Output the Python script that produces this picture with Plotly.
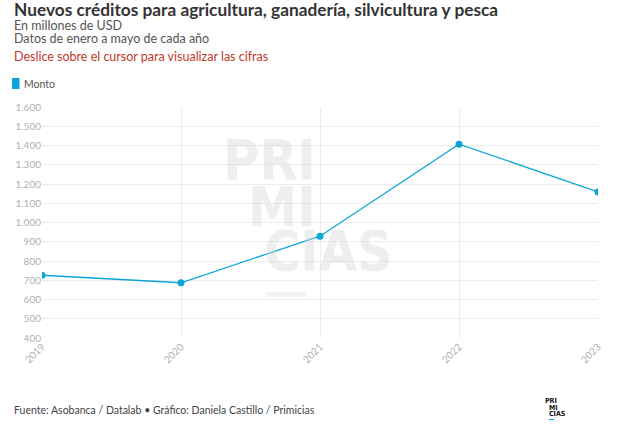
import plotly.graph_objects as go

years = ["2019", "2020", "2021", "2022", "2023"]
monto = [726, 687, 929, 1407, 1159]
y_ticks = [400, 500, 600, 700, 800, 900, 1000, 1100, 1200, 1300, 1400, 1500, 1600]

blue = "#0ca5d6"
font_family = "Lato, sans-serif"

W, H = 629, 436
L, R, T, B = 42, 629 - 598, 107, 436 - 338


def px_x(px):
    return (px - L) / (W - L - R)


def px_y(py):
    return (H - B - py) / (H - T - B)


fig = go.Figure()
fig.add_trace(go.Scatter(
    x=years, y=monto, mode="lines+markers", name="Monto",
    line=dict(color=blue, width=1.3),
    marker=dict(color=blue, size=7),
    showlegend=False,
))

fig.update_layout(
    width=W, height=H,
    margin=dict(l=L, r=R, t=T, b=B),
    paper_bgcolor="white", plot_bgcolor="white",
    font=dict(family=font_family, color="#333"),
    separators=",.",
    xaxis=dict(
        type="category", range=[0, 4],
        showgrid=True, gridcolor="#ececec", gridwidth=1,
        tickangle=-45, tickfont=dict(size=10, color="#b0b0b0"),
        ticks="", showline=False, zeroline=False,
    ),
    yaxis=dict(
        range=[400, 1600], tickvals=y_ticks, tickformat=",d",
        showgrid=True, gridcolor="#ececec", gridwidth=1,
        tickfont=dict(size=10, color="#b0b0b0"),
        ticks="", showline=False, zeroline=False,
    ),
)

# watermark behind the line
wm_font = dict(family="DejaVu Sans Condensed", size=55, color="rgba(215,215,215,0.42)")
fig.add_annotation(x=px_x(318), y=px_y(160), xref="paper", yref="paper",
                   xanchor="right", yanchor="middle", text="<b>PRI</b>",
                   showarrow=False, font=wm_font)
fig.add_annotation(x=px_x(318), y=px_y(207), xref="paper", yref="paper",
                   xanchor="right", yanchor="middle", text="<b>MI</b>",
                   showarrow=False, font=wm_font)
fig.add_annotation(x=px_x(262), y=px_y(251), xref="paper", yref="paper",
                   xanchor="left", yanchor="middle", text="<b>CIAS</b>",
                   showarrow=False, font=wm_font)
fig.add_shape(type="rect", xref="paper", yref="paper",
              x0=px_x(267), x1=px_x(307), y0=px_y(297), y1=px_y(292),
              fillcolor="rgba(205,220,230,0.3)", line=dict(width=0), layer="below")

# titles
texts = [
    ("<b>Nuevos créditos para agricultura, ganadería, silvicultura y pesca</b>", 10, 17.3, "#333333"),
    ("En millones de USD", 25, 12.5, "#555555"),
    ("Datos de enero a mayo de cada año", 38, 12.5, "#555555"),
    ("Deslice sobre el cursor para visualizar las cifras", 56, 12.5, "#c0392b"),
]
for txt, mid, size, color in texts:
    fig.add_annotation(
        x=px_x(12), y=px_y(mid), xref="paper", yref="paper",
        text=txt, showarrow=False, xanchor="left", yanchor="middle",
        font=dict(size=size, color=color, family=font_family),
    )

# legend
fig.add_shape(type="rect", xref="paper", yref="paper",
              x0=px_x(12), x1=px_x(19.5), y0=px_y(78), y1=px_y(89),
              fillcolor=blue, line=dict(width=0))
fig.add_annotation(
    x=px_x(21.5), y=px_y(83.5), xref="paper", yref="paper",
    text="Monto", showarrow=False, xanchor="left", yanchor="middle",
    font=dict(size=10.5, color="#555", family=font_family),
)

# footer
fig.add_annotation(
    x=px_x(12), y=px_y(410), xref="paper", yref="paper",
    text="Fuente: Asobanca / Datalab • Gráfico: Daniela Castillo / Primicias",
    showarrow=False, xanchor="left", yanchor="middle",
    font=dict(size=10.5, color="#444", family=font_family),
)
logo_font = dict(size=7, color="#111", family="DejaVu Sans Condensed")
for txt, xx, yy in [("<b>PRI</b>", 543, 401), ("<b>MI</b>", 547, 407.5), ("<b>CIAS</b>", 547, 414)]:
    fig.add_annotation(x=px_x(xx), y=px_y(yy), xref="paper", yref="paper",
                       text=txt, showarrow=False, xanchor="left", yanchor="middle",
                       font=logo_font)
fig.add_shape(type="rect", xref="paper", yref="paper",
              x0=px_x(549), x1=px_x(554), y0=px_y(420), y1=px_y(419),
              fillcolor=blue, line=dict(width=0))

# the page body has a default 8px margin; drop it so the figure fills the window
fig.write_html("out.html", config={"displayModeBar": False},
               post_script="document.body.style.margin='0';")
